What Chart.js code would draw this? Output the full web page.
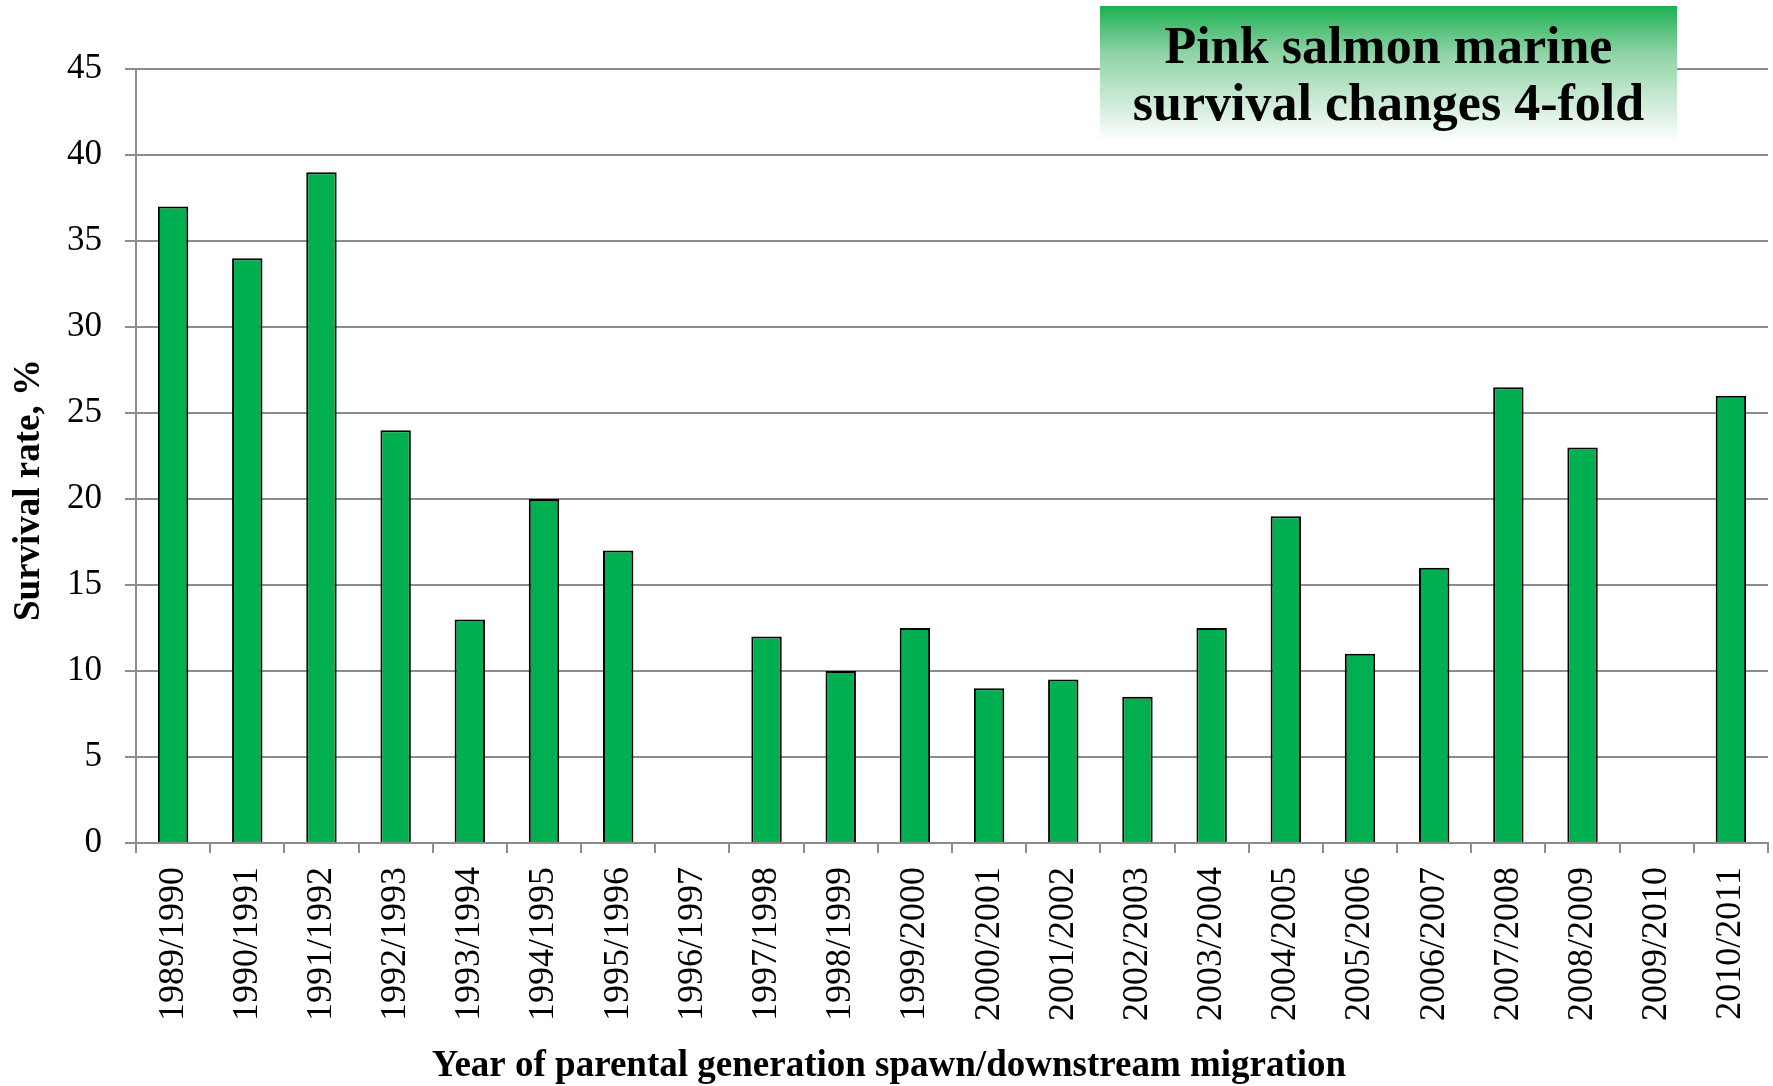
<!DOCTYPE html>
<html>
<head>
<meta charset="utf-8">
<script src="https://cdn.jsdelivr.net/npm/chart.js@4.4.1/dist/chart.umd.min.js"></script>
<style>
  body { margin: 0; background: #ffffff; }
  canvas { display: block; }
</style>
</head>
<body>
<canvas id="salmonChart" width="1773" height="1086"></canvas>
<script>
// Pink salmon marine survival by generation
const years = ['1989/1990', '1990/1991', '1991/1992', '1992/1993', '1993/1994', '1994/1995',
    '1995/1996', '1996/1997', '1997/1998', '1998/1999', '1999/2000', '2000/2001', '2001/2002',
    '2002/2003', '2003/2004', '2004/2005', '2005/2006', '2006/2007', '2007/2008', '2008/2009',
    '2009/2010', '2010/2011'];
const survival = [37, 34, 39, 24, 13, 20, 17, null, 12, 10, 12.5, 9, 9.5, 8.5, 12.5, 19, 11, 16,
    26.5, 23, null, 26];
const yTicks = [0, 5, 10, 15, 20, 25, 30, 35, 40, 45];
const titleLines = ['Pink salmon marine', 'survival changes 4-fold'];
const xTitle = 'Year of parental generation spawn/downstream migration';
const yTitle = 'Survival rate, %';

const gridGray = '#8c8c8c';

// green title box and the axis titles (they sit off-centre in the original)
const titleBox = {
    id: 'titleBox',
    afterDraw(chart) {
        const c = chart.ctx;
        const x = 1100, y = 6, w = 577, h = 136;
        c.save();
        const g = c.createLinearGradient(0, y, 0, y + h);
        g.addColorStop(0, '#1bb052');
        g.addColorStop(0.35, '#8fd3a5');
        g.addColorStop(1, '#ffffff');
        c.fillStyle = g;
        c.fillRect(x, y, w, h);
        c.fillStyle = '#000000';
        c.font = 'bold 52px "Liberation Serif"';
        c.textAlign = 'center';
        c.textBaseline = 'alphabetic';
        c.fillText(titleLines[0], x + w / 2, 63);
        c.fillText(titleLines[1], x + w / 2, 120);

        c.font = 'bold 37px "Liberation Serif"';
        c.textBaseline = 'middle';
        c.fillText(xTitle, 889, 1066);
        c.translate(29, 490);
        c.rotate(-Math.PI / 2);
        c.fillText(yTitle, 0, 0);
        c.restore();
    }
};

const ctxSalmon = document.getElementById('salmonChart').getContext('2d');
new Chart(ctxSalmon, {
    type: 'bar',
    data: {
        labels: years,
        datasets: [{
            label: yTitle,
            data: survival,
            backgroundColor: '#00b050',
            borderColor: '#000000',
            borderWidth: 2,
            barPercentage: 0.41,
            categoryPercentage: 1
        }]
    },
    options: {
        responsive: false,
        animation: false,
        devicePixelRatio: 1,
        layout: { padding: { top: 69, right: 5, left: 0, bottom: 0 } },
        plugins: { legend: { display: false }, tooltip: { enabled: false } },
        scales: {
            x: {
                afterFit: (s) => { s.height = 243; s.paddingLeft = 0; s.paddingRight = 0; },
                grid: { offset: true, drawOnChartArea: false, tickLength: 10, color: gridGray, lineWidth: 2 },
                border: { color: gridGray, width: 2 },
                ticks: {
                    minRotation: 90, maxRotation: 90, autoSkip: false, padding: 14,
                    color: '#000000',
                    font: { family: '"Liberation Serif"', size: 36 }
                }
            },
            y: {
                min: 0,
                max: 45,
                afterFit: (s) => { s.width = 136; s.paddingTop = 0; s.paddingBottom = 0; },
                afterBuildTicks: (s) => { s.ticks = yTicks.map(v => ({ value: v })); },
                grid: { tickLength: 11, color: gridGray, lineWidth: 2 },
                border: { color: gridGray, width: 2 },
                ticks: {
                    padding: 23,
                    color: '#000000',
                    font: { family: '"Liberation Serif"', size: 35 }
                }
            }
        }
    },
    plugins: [titleBox]
});
</script>
</body>
</html>
